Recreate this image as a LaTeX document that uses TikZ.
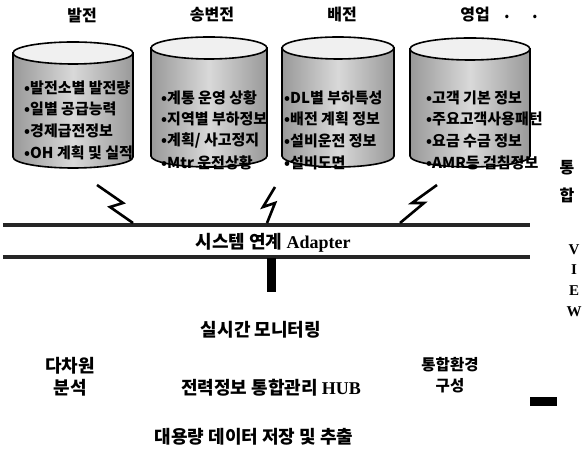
\documentclass[tikz,border=0pt]{standalone}
\usepackage{fontspec}
\newfontfamily\kr{Noto Sans CJK KR}
\newfontfamily\serif{Liberation Serif}
\begin{document}
\begin{tikzpicture}[x=1pt,y=1pt,
  drumbody/.style={left color=gray!80, right color=gray!80, middle color=gray!30, draw=black, line width=1.6pt},
  drumtop/.style={fill=gray!12, draw=black, line width=1.6pt},
  item/.style={anchor=west, inner sep=0pt, font=\kr\bfseries\fontsize{15}{15}\selectfont},
  title/.style={inner sep=0pt, font=\kr\bfseries\fontsize{16}{16}\selectfont},
  big/.style={inner sep=0pt, font=\kr\bfseries\fontsize{18}{18}\selectfont},
  mid/.style={inner sep=0pt, font=\kr\bfseries\fontsize{15.5}{15.5}\selectfont},
  side/.style={inner sep=0pt, font=\serif\bfseries\fontsize{15}{15}\selectfont},
  barline/.style={line width=4.2pt, draw=black!85},
  bolt/.style={line width=2.6pt, line join=miter, draw=black}]
\useasboundingbox (0,0) rectangle (584,452);
\newcommand\drum[4]{%
  \pgfmathsetmacro\dyt{452-#2}\pgfmathsetmacro\dyb{452-#3}%
  \pgfmathsetmacro\dl{#1-#4}\pgfmathsetmacro\dr{#1+#4}%
  \path[drumbody] (\dl,\dyt) -- (\dl,\dyb) arc[start angle=180,end angle=360,x radius=#4pt,y radius=11pt] -- (\dr,\dyt) -- cycle;
  \path[drumtop] (#1,\dyt) ellipse[x radius=#4pt,y radius=11pt];}
% cylinders
\drum{73}{53}{157}{60}
\drum{209}{48}{156}{58}
\drum{338}{48}{156}{56}
\drum{470}{49}{156}{60}
% titles
\node[title] (t1) at (82,437) {발전};
\node[title] (t2) at (212,437) {송변전};
\node[title] (t3) at (342,437) {배전};
\node[title] (t4) at (475,437) {영업};
\node[title] (d1) at (507,435) {.};
\node[title] (d2) at (535,435) {.};
% cylinder items
\node[item] (a1) at (24,364) {•발전소별 발전량};
\node[item] (a2) at (24,343) {•일별 공급능력};
\node[item] (a3) at (24,321) {•경제급전정보};
\node[item] (a4) at (24,299) {•OH 계획 및 실적};
\node[item] (b1) at (161,354) {•계통 운영 상황};
\node[item] (b2) at (161,333) {•지역별 부하정보};
\node[item] (b3) at (161,311) {•계획/ 사고정지};
\node[item] (b4) at (161,289) {•Mtr 운전상황};
\node[item] (c1) at (284,354) {•DL별 부하특성};
\node[item] (c2) at (284,333) {•배전 계획 정보};
\node[item] (c3) at (284,311) {•설비운전 정보};
\node[item] (c4) at (284,289) {•설비도면};
\node[item] (e1) at (426,354) {•고객 기본 정보};
\node[item] (e2) at (426,333) {•주요고객사용패턴};
\node[item] (e3) at (426,311) {•요금 수금 정보};
\node[item] (e4) at (426,289) {•AMR등 검침정보};
% adapter bar
\node[minimum width=527pt, minimum height=32pt, inner sep=0pt] (bar) at (266.5,211) {};
\draw[barline] (bar.north west) -- (bar.north east);
\draw[barline] (bar.south west) -- (bar.south east);
\node[inner sep=0pt] (adapter) at (273,209) {\kr\bfseries\fontsize{18}{18}\selectfont 시스템 연계 {\serif\bfseries Adapter}};
% lightning bolts
\coordinate (l1) at (97,267);
\coordinate (l2) at (275,265);
\coordinate (l3) at (437,267);
\draw[bolt] (l1) -- (123,249) -- (110,245) -- (133,229);
\draw[bolt] (l2) -- (263,245) -- (275,249) -- (267,229);
\draw[bolt] (l3) -- (412,249) -- (424,249) -- (400,229);
% stem
\fill[black] (267,194) rectangle (276,160);
% lower texts
\node[big] (rt) at (261,122) {실시간 모니터링};
\node[big] (hub) at (271,64) {전력정보 통합관리 {\serif\bfseries HUB}};
\node[big] (big) at (254,15) {대용량 데이터 저장 및 추출};
\node[big, align=center] (multi) at (70,75) {다차원\\[4pt]분석};
\node[mid, align=center] (env) at (450,77) {통합환경\\[6pt]구성};
\fill[black] (530,55) rectangle (557,46);
% side labels
\node[title] (s1) at (567,284) {통};
\node[title] (s2) at (567,257) {합};
\node[side] (v1) at (574,202) {V};
\node[side] (v2) at (574,182) {I};
\node[side] (v3) at (574,161) {E};
\node[side] (v4) at (574,140) {W};
\end{tikzpicture}
\end{document}
